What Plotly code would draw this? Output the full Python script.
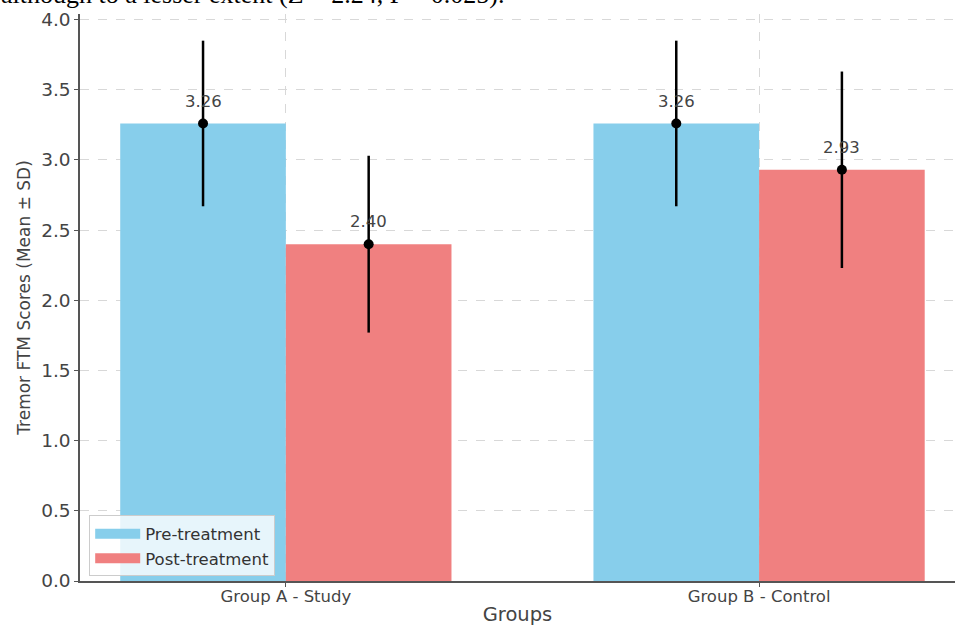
import plotly.graph_objects as go

# Tremor FTM scores, mean and standard deviation per group and phase
groups = ["Group A - Study", "Group B - Control"]
pre_mean = [3.26, 3.26]
pre_sd = [0.59, 0.59]
post_mean = [2.40, 2.93]
post_sd = [0.63, 0.70]

series_names = ["Pre-treatment", "Post-treatment"]
colors = ["#87CEEB", "#F08080"]
bar_width = 0.35

font_family = "DejaVu Sans"
text_grey = "#444444"

idx = list(range(len(groups)))
fig = go.Figure()

for k, (name, means, sds, col) in enumerate(
    [(series_names[0], pre_mean, pre_sd, colors[0]),
     (series_names[1], post_mean, post_sd, colors[1])]
):
    shift = (k - 0.5) * bar_width
    xs = [i + shift for i in idx]
    fig.add_trace(go.Bar(
        x=xs, y=means, width=bar_width, name=name, legendgroup=name,
        showlegend=False,
        marker=dict(color=col, line=dict(width=0)),
    ))
    # wide rectangular legend swatch
    fig.add_trace(go.Scatter(
        x=[None], y=[None], mode="lines", name=name, legendgroup=name,
        line=dict(color=col, width=11),
    ))
    # mean marker with standard-deviation whiskers
    fig.add_trace(go.Scatter(
        x=xs, y=means, mode="markers", showlegend=False, hoverinfo="skip",
        marker=dict(color="black", size=10),
        error_y=dict(type="data", array=sds, visible=True,
                     color="black", thickness=2.5, width=0),
    ))
    for x, m in zip(xs, means):
        fig.add_annotation(
            x=x, y=m + 0.16, text=f"{m:.2f}", showarrow=False,
            xanchor="center", yanchor="middle",
            font=dict(family=font_family, size=16.5, color=text_grey),
        )

# sentence from the surrounding page text, partly off the top edge
fig.add_annotation(
    xref="paper", yref="paper", x=-0.093, y=1.0, yshift=20,
    xanchor="left", yanchor="middle", showarrow=False,
    text="although to a lesser extent (Z = 2.24, P = 0.025).",
    font=dict(family="Liberation Serif", size=26, color="black"),
)

fig.update_layout(
    width=955, height=626,
    margin=dict(l=80, r=0, t=14, b=45),
    plot_bgcolor="white", paper_bgcolor="white",
    barmode="overlay",
    font=dict(family=font_family, color=text_grey),
    legend=dict(
        x=0.0105, y=0.008, xanchor="left", yanchor="bottom",
        bgcolor="rgba(255,255,255,0.8)", bordercolor="#cccccc", borderwidth=1,
        font=dict(family=font_family, size=16.5, color="#333333"),
        itemwidth=45, tracegroupgap=0,
    ),
    xaxis=dict(
        range=[-0.435, 1.414], automargin=False,
        tickmode="array", tickvals=idx, ticktext=groups,
        tickfont=dict(size=16.5, color=text_grey),
        ticks="outside", ticklen=4, tickcolor="#555555",
        ticklabelstandoff=-5,
        showline=True, linecolor="#555555", linewidth=1.5,
        showgrid=True, gridcolor="#d8d8d8", griddash="dash", gridwidth=1,
        zeroline=False,
        title=dict(text="Groups", font=dict(size=19.5, color=text_grey), standoff=10),
    ),
    yaxis=dict(
        range=[0, 4.04], automargin=False,
        tickmode="array", tickvals=[i * 0.5 for i in range(9)],
        tickformat=".1f",
        tickfont=dict(size=18.5, color=text_grey),
        ticks="outside", ticklen=4, tickcolor="#555555",
        showline=True, linecolor="#555555", linewidth=1.5,
        showgrid=True, gridcolor="#d8d8d8", griddash="dash", gridwidth=1,
        zeroline=False,
        title=dict(text="Tremor FTM Scores (Mean ± SD)",
                   font=dict(size=17, color=text_grey), standoff=6),
    ),
)

fig.write_html("out.html")
